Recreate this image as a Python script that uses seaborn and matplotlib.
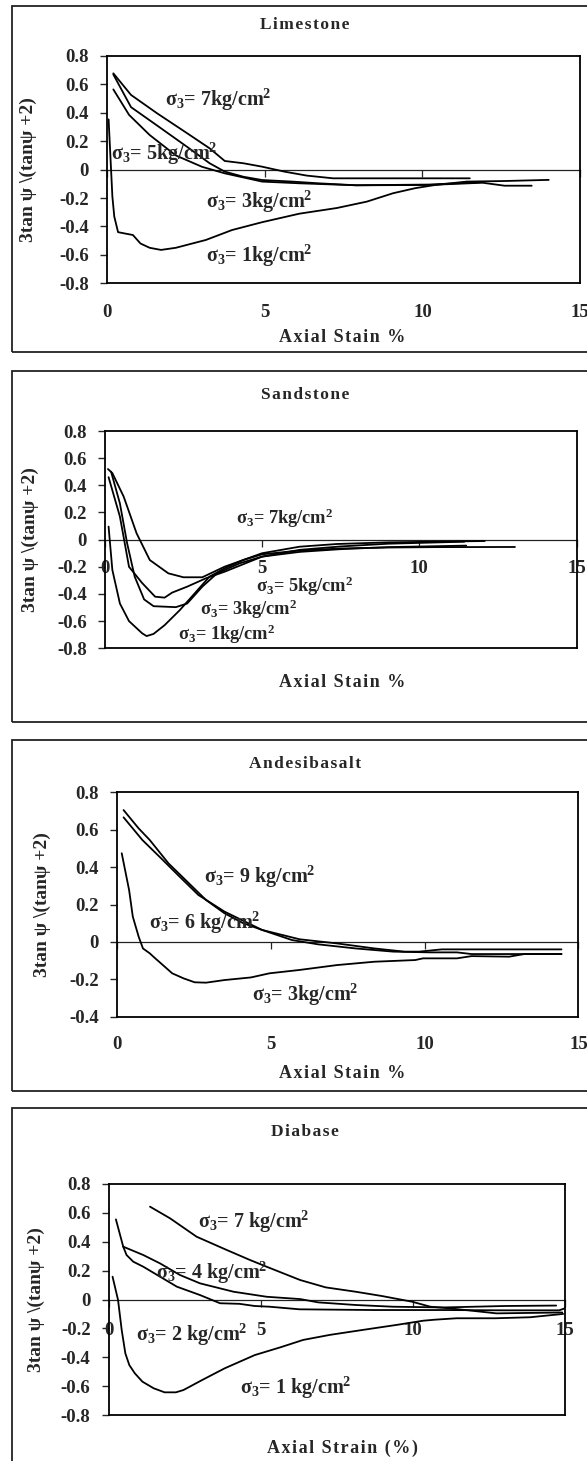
import pandas as pd
import matplotlib
matplotlib.use('Agg')
import matplotlib.pyplot as plt
import seaborn as sns
from matplotlib.patches import Rectangle

sns.set_style('white')
plt.rcParams['font.family'] = ['Liberation Serif', 'DejaVu Serif']
plt.rcParams['font.weight'] = 'bold'
plt.rcParams['mathtext.fontset'] = 'custom'
plt.rcParams['mathtext.rm'] = 'Liberation Serif:bold'
plt.rcParams['mathtext.bf'] = 'Liberation Serif:bold'
plt.rcParams['mathtext.it'] = 'Liberation Serif:bold'
plt.rcParams['axes.unicode_minus'] = False

# ---- Limestone ----
ls1_x = [0.06, 0.18, 0.24, 0.36, 0.59, 0.83, 1.07, 1.36, 1.72, 2.19, 3.14, 3.97, 4.92, 6.1, 7.29, 8.24, 9.07, 9.78, 10.4, 11.4, 12.6, 14.0]
ls1_y = [0.354, -0.19, -0.33, -0.44, -0.45, -0.46, -0.52, -0.55, -0.565, -0.55, -0.495, -0.425, -0.37, -0.31, -0.27, -0.225, -0.166, -0.13, -0.108, -0.084, -0.08, -0.072]
ls3_x = [0.21, 0.71, 1.36, 2.19, 3.02, 3.74, 4.92, 6.1, 7.9, 10.2, 11.9, 12.6, 13.46]
ls3_y = [0.565, 0.385, 0.244, 0.10, 0.02, -0.026, -0.084, -0.096, -0.11, -0.108, -0.092, -0.113, -0.113]
ls5_x = [0.21, 0.77, 1.6, 2.55, 3.26, 3.74, 4.33, 4.92, 5.87, 6.7, 7.9, 10.2, 11.9]
ls5_y = [0.67, 0.44, 0.31, 0.16, 0.045, -0.014, -0.05, -0.073, -0.084, -0.096, -0.11, -0.105, -0.088]
ls7_x = [0.21, 0.77, 1.6, 2.55, 3.26, 3.74, 4.33, 4.92, 5.63, 6.34, 7.17, 8.48, 11.5]
ls7_y = [0.678, 0.526, 0.396, 0.256, 0.15, 0.061, 0.045, 0.021, -0.014, -0.042, -0.061, -0.061, -0.061]

# ---- Sandstone ----
ss1_x = [0.12, 0.24, 0.48, 0.77, 1.19, 1.33, 1.55, 1.9, 2.38, 2.86, 3.33, 3.81, 4.4, 5.0, 6.2, 7.5, 9.0, 10.5, 13.04]
ss1_y = [0.096, -0.223, -0.47, -0.60, -0.69, -0.71, -0.694, -0.63, -0.52, -0.395, -0.272, -0.211, -0.15, -0.108, -0.08, -0.065, -0.058, -0.055, -0.054]
ss3_x = [0.2, 0.48, 0.71, 0.95, 1.25, 1.55, 2.26, 2.62, 3.1, 3.57, 4.29, 5.0, 6.2, 7.5, 9.0, 11.49]
ss3_y = [0.5, 0.267, -0.027, -0.272, -0.44, -0.49, -0.497, -0.47, -0.346, -0.248, -0.174, -0.125, -0.09, -0.07, -0.055, -0.044]
ss5_x = [0.12, 0.48, 0.77, 1.19, 1.6, 1.9, 2.14, 2.62, 3.21, 3.81, 5.0, 6.2, 7.5, 9.0, 11.43]
ss5_y = [0.46, 0.17, -0.2, -0.32, -0.42, -0.427, -0.39, -0.346, -0.285, -0.236, -0.125, -0.075, -0.05, -0.03, -0.015]
ss7_x = [0.1, 0.24, 0.6, 1.01, 1.43, 2.02, 2.5, 3.1, 3.81, 5.0, 6.19, 7.38, 9.0, 12.08]
ss7_y = [0.52, 0.49, 0.317, 0.047, -0.15, -0.248, -0.277, -0.277, -0.199, -0.1, -0.052, -0.032, -0.02, -0.01]

# ---- Andesibasalt ----
ab3_x = [0.16, 0.4, 0.52, 0.71, 0.85, 1.07, 1.25, 1.56, 1.8, 2.17, 2.53, 2.9, 3.5, 4.36, 4.96, 5.94, 7.15, 8.37, 9.7, 9.95, 11.05, 11.53, 12.75, 13.24, 14.45]
ab3_y = [0.474, 0.277, 0.135, 0.028, -0.035, -0.061, -0.088, -0.133, -0.168, -0.195, -0.216, -0.218, -0.204, -0.19, -0.168, -0.15, -0.124, -0.106, -0.097, -0.088, -0.088, -0.076, -0.079, -0.065, -0.065]
ab6_x = [0.22, 0.83, 1.44, 2.04, 2.65, 3.5, 4.72, 5.69, 6.54, 7.76, 8.98, 10.2, 11.05, 11.53, 14.45]
ab6_y = [0.666, 0.545, 0.447, 0.349, 0.251, 0.162, 0.064, 0.01, -0.013, -0.035, -0.052, -0.056, -0.056, -0.065, -0.065]
ab9_x = [0.22, 0.71, 1.07, 1.68, 2.29, 2.9, 3.5, 4.11, 4.72, 5.94, 7.15, 8.37, 9.34, 9.83, 10.56, 12.0, 14.45]
ab9_y = [0.705, 0.607, 0.545, 0.42, 0.322, 0.224, 0.153, 0.1, 0.064, 0.014, -0.008, -0.035, -0.052, -0.052, -0.04, -0.04, -0.04]

# ---- Diabase ----
db1_x = [0.13, 0.31, 0.43, 0.55, 0.68, 0.86, 1.11, 1.48, 1.84, 2.21, 2.46, 3.07, 3.81, 4.8, 5.66, 6.39, 7.27, 8.37, 9.46, 10.33, 10.7, 11.43, 12.7, 13.84, 14.93]
db1_y = [0.158, -0.003, -0.211, -0.373, -0.454, -0.511, -0.569, -0.615, -0.643, -0.643, -0.627, -0.558, -0.477, -0.385, -0.33, -0.28, -0.245, -0.21, -0.176, -0.147, -0.14, -0.13, -0.13, -0.123, -0.1]
db2_x = [0.24, 0.48, 0.59, 0.81, 1.14, 1.69, 2.24, 3.0, 3.66, 4.3, 4.8, 5.29, 6.27, 8.73, 11.0, 13.0, 14.8, 15.0]
db2_y = [0.555, 0.366, 0.308, 0.262, 0.227, 0.158, 0.089, 0.031, -0.026, -0.03, -0.045, -0.05, -0.068, -0.073, -0.073, -0.075, -0.075, -0.06]
db4_x = [0.48, 1.14, 1.69, 2.34, 3.0, 4.1, 5.19, 6.29, 6.89, 8.11, 9.34, 11.0, 13.0, 14.7]
db4_y = [0.366, 0.308, 0.25, 0.17, 0.112, 0.054, 0.019, 0.003, -0.02, -0.038, -0.05, -0.055, -0.045, -0.042]
db7_x = [1.36, 2.02, 2.89, 3.88, 4.64, 5.19, 6.29, 7.13, 8.11, 8.98, 9.96, 10.57, 11.19, 12.74, 14.9]
db7_y = [0.643, 0.562, 0.435, 0.343, 0.274, 0.227, 0.135, 0.084, 0.054, 0.024, -0.015, -0.05, -0.061, -0.096, -0.09]

x_ticks = [0, 5, 10, 15]
y_label = '3tan ψ \\(tanψ +2)'


def sig(p):
    return 'σ$_\\mathbf{3}$= ' + p + 'kg/cm$^\\mathbf{2}$'


def spaced(s):
    return '\u200a'.join(s)


W, H = 587, 1461
fig = plt.figure(figsize=(W / 100, H / 100), dpi=100)


def rect(l, t, r, b):
    return [l / W, 1 - b / H, (r - l) / W, (b - t) / H]


def panel(area, box, title, title_y, curves, notes, ylim, yticks, at_zero, xlabel, xlab_y, ylab_x, pad,
          note_size=14.5):
    # outer frame
    fig.add_artist(Rectangle((12 / W, 1 - box[1] / H), (600 - 12) / W, (box[1] - box[0]) / H,
                             transform=fig.transFigure, fill=False, lw=1.3, ec='#222'))
    ax = fig.add_axes(rect(*area))
    frames = [pd.DataFrame({'strain': cx, 'psi': cy, 'curve': name}) for name, cx, cy in curves]
    df = pd.concat(frames, ignore_index=True)
    sns.lineplot(data=df, x='strain', y='psi', units='curve', estimator=None, sort=False,
                 color='black', lw=1.3, ax=ax, legend=False)
    ax.set_xlim(0, 15)
    ax.set_ylim(*ylim)
    for s in ax.spines.values():
        s.set_visible(True)
        s.set_color('black')
        s.set_linewidth(1.3)
    ax.set_yticks(yticks)
    ax.set_yticklabels([f'{v:g}' for v in yticks])
    ax.tick_params(axis='y', direction='out', length=5, width=1, pad=8, labelsize=13.5, left=True)
    zero = (0 - ylim[0]) / (ylim[1] - ylim[0])
    sec = ax.secondary_xaxis(zero)
    sec.set_alignment('bottom')
    sec.set_xticks(x_ticks)
    sec.spines['bottom'].set_linewidth(0.9)
    sec.spines['bottom'].set_color('#222')
    sec.tick_params(axis='x', direction='out', length=5, width=0.9, labelsize=13.5, pad=pad)
    if at_zero:
        sec.set_xticklabels([str(t) for t in x_ticks])
        ax.set_xticks([])
    else:
        sec.set_xticklabels([])
        ax.set_xticks(x_ticks)
        ax.set_xticklabels([str(t) for t in x_ticks])
        ax.tick_params(axis='x', length=0, pad=pad, labelsize=13.5, bottom=True)
    ax.set_xlabel('')
    ax.set_ylabel('')
    for text, tx, ty in notes:
        ax.text(tx, ty, text, ha='left', va='center', fontsize=note_size, fontweight='bold')
    fig.text(305 / W, 1 - title_y / H, spaced(title), ha='center', va='center', fontsize=12.5, fontweight='bold')
    fig.text(342 / W, 1 - xlab_y / H, spaced(xlabel), ha='center', va='center', fontsize=13, fontweight='bold')
    fig.text(ylab_x / W, 1 - ((area[1] + area[3]) / 2) / H, y_label, ha='center', va='center',
             rotation=90, fontsize=14, fontweight='bold')
    return ax


panel((106.7, 56, 580.3, 283.3), (6, 352), 'Limestone', 25,
      [('1', ls1_x, ls1_y), ('3', ls3_x, ls3_y), ('5', ls5_x, ls5_y), ('7', ls7_x, ls7_y)],
      [(sig('7'), 1.84, 0.49), (sig('5'), 0.14, 0.11), (sig('3'), 3.14, -0.225), (sig('1'), 3.14, -0.61)],
      (-0.8, 0.8), [0.8, 0.6, 0.4, 0.2, 0, -0.2, -0.4, -0.6, -0.8], False, 'Axial Stain %', 338, 28, 15)

panel((104.8, 431, 576.6, 648.3), (371, 722), 'Sandstone', 395,
      [('1', ss1_x, ss1_y), ('3', ss3_x, ss3_y), ('5', ss5_x, ss5_y), ('7', ss7_x, ss7_y)],
      [(sig('7'), 4.17, 0.157), (sig('5'), 4.8, -0.345), (sig('3'), 3.04, -0.51), (sig('1'), 2.32, -0.70)],
      (-0.8, 0.8), [0.8, 0.6, 0.4, 0.2, 0, -0.2, -0.4, -0.6, -0.8], True, 'Axial Stain %', 682, 30, 10,
      note_size=13.2)

panel((116.8, 792.3, 578.4, 1016.7), (740, 1091), 'Andesibasalt', 764,
      [('3', ab3_x, ab3_y), ('6', ab6_x, ab6_y), ('9', ab9_x, ab9_y)],
      [(sig('9 '), 2.83, 0.349), (sig('6 '), 1.05, 0.1), (sig('3'), 4.38, -0.284)],
      (-0.4, 0.8), [0.8, 0.6, 0.4, 0.2, 0, -0.2, -0.4], False, 'Axial Stain %', 1073, 42, 14)

panel((108.6, 1184, 565.3, 1415), (1108, 1475), 'Diabase', 1132,
      [('1', db1_x, db1_y), ('2', db2_x, db2_y), ('4', db4_x, db4_y), ('7', db7_x, db7_y)],
      [(sig('7 '), 2.95, 0.539), (sig('4 '), 1.57, 0.186), (sig('2 '), 0.89, -0.246), (sig('1 '), 4.33, -0.615)],
      (-0.8, 0.8), [0.8, 0.6, 0.4, 0.2, 0, -0.2, -0.4, -0.6, -0.8], True, 'Axial Strain (%)', 1448, 36, 11)

fig.savefig('out.png', dpi=100)
